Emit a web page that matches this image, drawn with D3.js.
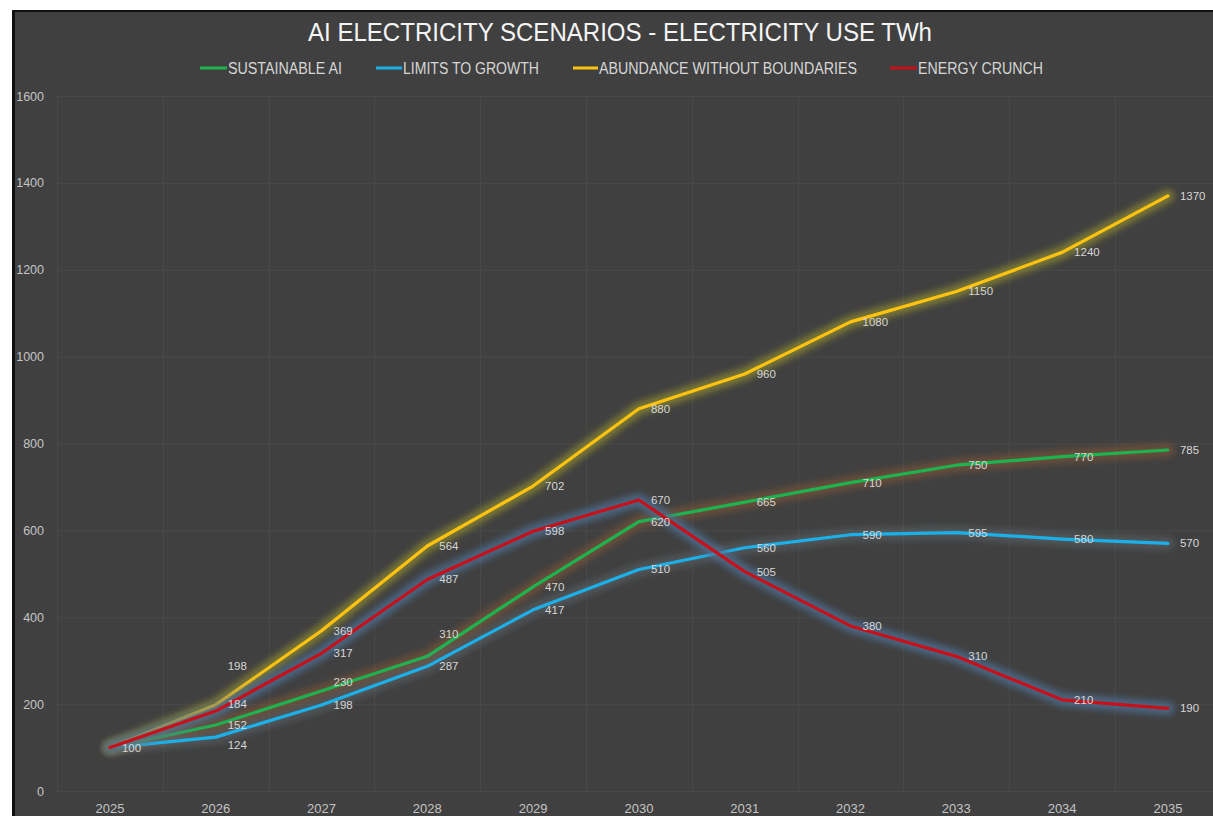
<!DOCTYPE html>
<html><head><meta charset="utf-8">
<script src="https://cdn.jsdelivr.net/npm/d3@7"></script>
<style>
html,body{margin:0;padding:0;background:#ffffff;overflow:hidden;}
svg{display:block;}
</style></head>
<body>
<svg id="chart" width="1213" height="816"></svg>
<script>
// ---- data ----
const years = ["2025","2026","2027","2028","2029","2030","2031","2032","2033","2034","2035"];
const seriesNames = ["SUSTAINABLE AI","LIMITS TO GROWTH","ABUNDANCE WITHOUT BOUNDARIES","ENERGY CRUNCH"];
const sustainableAI = [100,152,230,310,470,620,665,710,750,770,785];
const limitsToGrowth = [100,124,198,287,417,510,560,590,595,580,570];
const abundance = [100,198,369,564,702,880,960,1080,1150,1240,1370];
const energyCrunch = [100,184,317,487,598,670,505,380,310,210,190];
const yTicks = [0,200,400,600,800,1000,1200,1400,1600];
const titleText = "AI ELECTRICITY SCENARIOS - ELECTRICITY USE TWh";

// ---- styles ----
const colors = ["#1db34f","#1cb0ea","#ffc30f","#c8101a"];
const glowColors = ["#8a5a35","#6e7a86","#8c8a30","#4d6e92"];
const glowOpacity = [0.55,0.35,0.75,0.8];
// label vertical nudges (px) to avoid overlaps, as in the original
const labelNudge = {"2|1":-39,"1|1":8,"3|1":-7,"0|2":-9,"0|3":-22};

const seriesValues = [sustainableAI, limitsToGrowth, abundance, energyCrunch];

const svg = d3.select("#chart");
const W = 1213, H = 816;

// background with frame
svg.append("rect").attr("x",0).attr("y",0).attr("width",W).attr("height",H).attr("fill","#ffffff");
svg.append("rect").attr("x",12).attr("y",10).attr("width",W).attr("height",H).attr("fill","#111111");
svg.append("rect").attr("x",15).attr("y",12).attr("width",W).attr("height",H).attr("fill","#404040");

const defs = svg.append("defs");
const f = defs.append("filter").attr("id","glow").attr("x","-10%").attr("y","-10%").attr("width","120%").attr("height","120%");
f.append("feGaussianBlur").attr("stdDeviation",3);

const plotLeft = 57, step = 105.8;
const x = d3.scaleBand().domain(years).range([plotLeft, plotLeft + step*years.length]).padding(0);
const y = d3.scaleLinear().domain([0,1600]).range([791,96]);
const cx = d => x(d) + x.bandwidth()/2;

// gridlines
const grid = svg.append("g");
grid.selectAll("line.h").data(yTicks).join("line")
  .attr("x1",plotLeft).attr("x2",W).attr("y1",d=>y(d)+0.5).attr("y2",d=>y(d)+0.5)
  .attr("stroke","#494949").attr("stroke-width",1);
const bounds = years.map(d=>x(d));
grid.selectAll("line.v").data(bounds).join("line")
  .attr("x1",d=>Math.round(d)+0.5).attr("x2",d=>Math.round(d)+0.5).attr("y1",y(1600)).attr("y2",y(0))
  .attr("stroke","#494949").attr("stroke-width",1);

// axes
const yAxis = svg.append("g").attr("transform",`translate(${plotLeft},0)`)
  .call(d3.axisLeft(y).tickValues(yTicks).tickSize(0).tickPadding(13).tickFormat(d3.format("d")));
yAxis.select(".domain").remove();
yAxis.selectAll("text").attr("fill","#c4c4c4").style("font-family","'Liberation Sans', Arial, sans-serif").style("font-size","12.5px");

const xAxis = svg.append("g").attr("transform",`translate(0,${y(0)})`)
  .call(d3.axisBottom(x).tickSize(0).tickPadding(13));
xAxis.select(".domain").remove();
xAxis.selectAll("text").attr("fill","#c4c4c4").style("font-family","'Liberation Sans', Arial, sans-serif").style("font-size","13px");

// lines
const line = d3.line().x((d,i)=>cx(years[i])).y(d=>y(d));
seriesValues.forEach((vals,si)=>{
  const g = svg.append("g");
  g.append("path").datum(vals).attr("d",line).attr("fill","none")
    .attr("stroke",glowColors[si]).attr("stroke-width",13).attr("stroke-opacity",glowOpacity[si])
    .attr("stroke-linejoin","round").attr("stroke-linecap","round").attr("filter","url(#glow)");
  g.append("path").datum(vals).attr("d",line).attr("fill","none")
    .attr("stroke",colors[si]).attr("stroke-width",3.2)
    .attr("stroke-linejoin","round").attr("stroke-linecap","round");
});

// data labels
const seen = new Set();
const lab = svg.append("g").style("font-family","'Liberation Sans', Arial, sans-serif").style("font-size","11.5px");
seriesValues.forEach((vals,si)=>{
  vals.forEach((v,i)=>{
    const key = i+"|"+v;
    if (seen.has(key)) return;
    seen.add(key);
    const nudge = labelNudge[si+"|"+i] || 0;
    lab.append("text").attr("x",cx(years[i])+12).attr("y",y(v)+nudge).attr("dy","0.35em")
      .attr("fill","#d6d6d6").text(v);
  });
});

// title
svg.append("text").attr("x",308).attr("y",41).attr("textLength",624).attr("lengthAdjust","spacingAndGlyphs")
  .style("font-family","'Liberation Sans Narrow','Arial Narrow','Liberation Sans',Arial,sans-serif")
  .style("font-size","25px").attr("fill","#f4f4f4").text(titleText);

// legend
const legendPos = [
  {mx:200, tx:228, tw:114},
  {mx:376, tx:403, tw:136},
  {mx:573, tx:599, tw:258},
  {mx:890, tx:918, tw:125}
];
const leg = svg.append("g");
seriesNames.forEach((name,si)=>{
  const p = legendPos[si];
  leg.append("line").attr("x1",p.mx).attr("x2",p.tx-1).attr("y1",68).attr("y2",68)
    .attr("stroke",glowColors[si]).attr("stroke-width",7).attr("stroke-opacity",glowOpacity[si]).attr("filter","url(#glow)");
  leg.append("line").attr("x1",p.mx).attr("x2",p.tx-1).attr("y1",68).attr("y2",68)
    .attr("stroke",colors[si]).attr("stroke-width",3);
  leg.append("text").attr("x",p.tx).attr("y",74).attr("textLength",p.tw).attr("lengthAdjust","spacingAndGlyphs")
    .style("font-family","'Liberation Sans Narrow','Arial Narrow','Liberation Sans',Arial,sans-serif")
    .style("font-size","16px").attr("fill","#d6d6d6").text(name);
});
</script>
</body></html>
